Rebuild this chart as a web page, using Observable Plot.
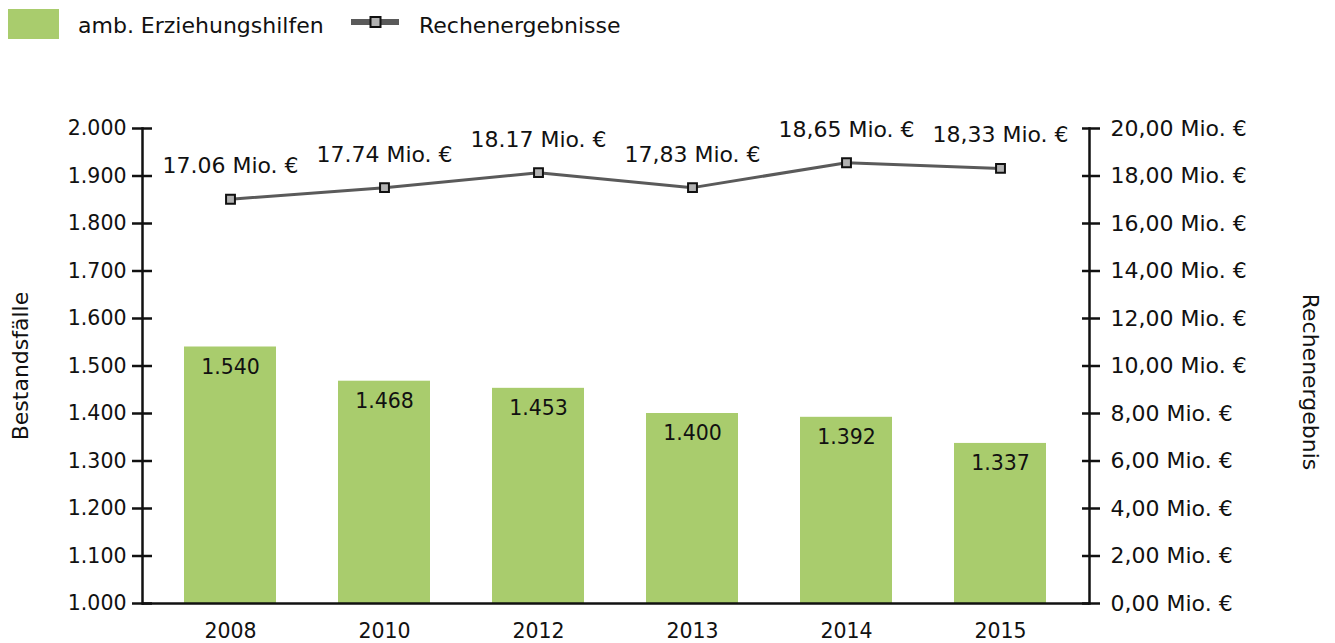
<!DOCTYPE html>
<html>
<head>
<meta charset="utf-8">
<script src="https://cdn.jsdelivr.net/npm/d3@7"></script>
<script src="https://cdn.jsdelivr.net/npm/@observablehq/plot@0.6"></script>
<style>
  body { margin: 0; background: #fff; font-family: "DejaVu Sans", sans-serif; }
  #legend { position: relative; width: 1335px; height: 48px; }
  #chart svg { display: block; }
</style>
</head>
<body>
<div id="legend"></div>
<div id="chart"></div>
<script>
// ---- data ----
const years = ["2008", "2010", "2012", "2013", "2014", "2015"];
const cases = [1540, 1468, 1453, 1400, 1392, 1337];            // Bestandsfälle (left axis)
const results = [17.02, 17.51, 18.14, 17.51, 18.56, 18.32];     // Rechenergebnisse, Mio. € (as plotted)
const resultLabels = ["17.06 Mio. €", "17.74 Mio. €", "18.17 Mio. €", "17,83 Mio. €", "18,65 Mio. €", "18,33 Mio. €"];
const leftTicks = [1000, 1100, 1200, 1300, 1400, 1500, 1600, 1700, 1800, 1900, 2000];
const rightTicks = [0, 2, 4, 6, 8, 10, 12, 14, 16, 18, 20];
const seriesNames = ["amb. Erziehungshilfen", "Rechenergebnisse"];
const axisTitles = ["Bestandsfälle", "Rechenergebnis"];

const barColor = "#a9cc6d";
const lineColor = "#5a5a5a";
const markerFill = "#b2b2b2";
const ink = "#111";

const de = d3.formatLocale({decimal: ",", thousands: ".", grouping: [3], currency: ["", " €"]});
const fmtInt = de.format(",");
const fmt2 = de.format(",.2f");

// right axis (0–20 Mio. €) mapped onto left domain (1000–2000)
const toLeft = v => 1000 + v * 50;
const fromLeft = d => (d - 1000) / 50;

const barData = years.map((y, i) => ({year: y, value: cases[i]}));
const lineData = years.map((y, i) => ({year: y, value: toLeft(results[i]), label: resultLabels[i]}));

// ---- legend ----
const legend = d3.select("#legend").append("svg").attr("width", 1335).attr("height", 48);
legend.append("rect").attr("x", 8).attr("y", 9).attr("width", 51).attr("height", 30).attr("fill", barColor);
legend.append("text").attr("x", 78).attr("y", 33).attr("font-size", 22).attr("fill", ink)
  .attr("font-family", "DejaVu Sans").text(seriesNames[0]);
legend.append("line").attr("x1", 351).attr("x2", 399).attr("y1", 22).attr("y2", 22)
  .attr("stroke", lineColor).attr("stroke-width", 6);
legend.append("rect").attr("x", 370.5).attr("y", 17).attr("width", 10).attr("height", 10)
  .attr("fill", markerFill).attr("stroke", ink).attr("stroke-width", 2);
legend.append("text").attr("x", 419).attr("y", 33).attr("font-size", 22).attr("fill", ink)
  .attr("font-family", "DejaVu Sans").text(seriesNames[1]);

// ---- chart ----
const chart = Plot.plot({
  width: 1335,
  height: 595,
  marginLeft: 142,
  marginRight: 246,
  marginTop: 80,
  marginBottom: 40,
  style: {fontFamily: "DejaVu Sans", color: ink, background: "#fff"},
  x: {domain: years, paddingInner: 0.4, paddingOuter: 0.27},
  y: {domain: [1000, 2000]},
  marks: [
    Plot.barY(barData, {x: "year", y1: 1000, y2: "value", fill: barColor}),
    Plot.text(barData, {x: "year", y: "value", text: d => fmtInt(d.value), dy: 20, fontSize: 20.5, fill: ink}),
    Plot.line(lineData, {x: "year", y: "value", stroke: lineColor, strokeWidth: 3}),
    Plot.dot(lineData, {x: "year", y: "value", symbol: "square", r: 5, fill: markerFill, stroke: ink, strokeWidth: 2}),
    Plot.text(lineData, {x: "year", y: "value", text: "label", dy: -33, fontSize: 22, fill: ink}),
    Plot.ruleY([1000], {stroke: ink, strokeWidth: 2.5}),
    Plot.frame({anchor: "left", stroke: ink, strokeWidth: 2.5}),
    Plot.frame({anchor: "right", stroke: ink, strokeWidth: 2.5}),
    Plot.axisY(leftTicks, {anchor: "left", tickSize: 20, dx: 10, tickPadding: 6, strokeWidth: 2.5,
      tickFormat: fmtInt, fontSize: 20.5, label: null, color: ink}),
    Plot.axisY(rightTicks.map(toLeft), {anchor: "right", tickSize: 18, dx: -8, tickPadding: 11, strokeWidth: 2.5,
      tickFormat: d => fmt2(fromLeft(d)) + " Mio. €", fontSize: 22, label: null, color: ink}),
    Plot.axisX({tickSize: 0, tickPadding: 20, fontSize: 20.5, label: null, color: ink}),
    Plot.text([axisTitles[0]], {frameAnchor: "left", textAnchor: "middle", rotate: -90, dx: -122, fontSize: 22, fill: ink}),
    Plot.text([axisTitles[1]], {frameAnchor: "right", textAnchor: "middle", rotate: 90, dx: 221, dy: 16, fontSize: 22, fill: ink})
  ]
});
document.getElementById("chart").appendChild(chart);
</script>
</body>
</html>
